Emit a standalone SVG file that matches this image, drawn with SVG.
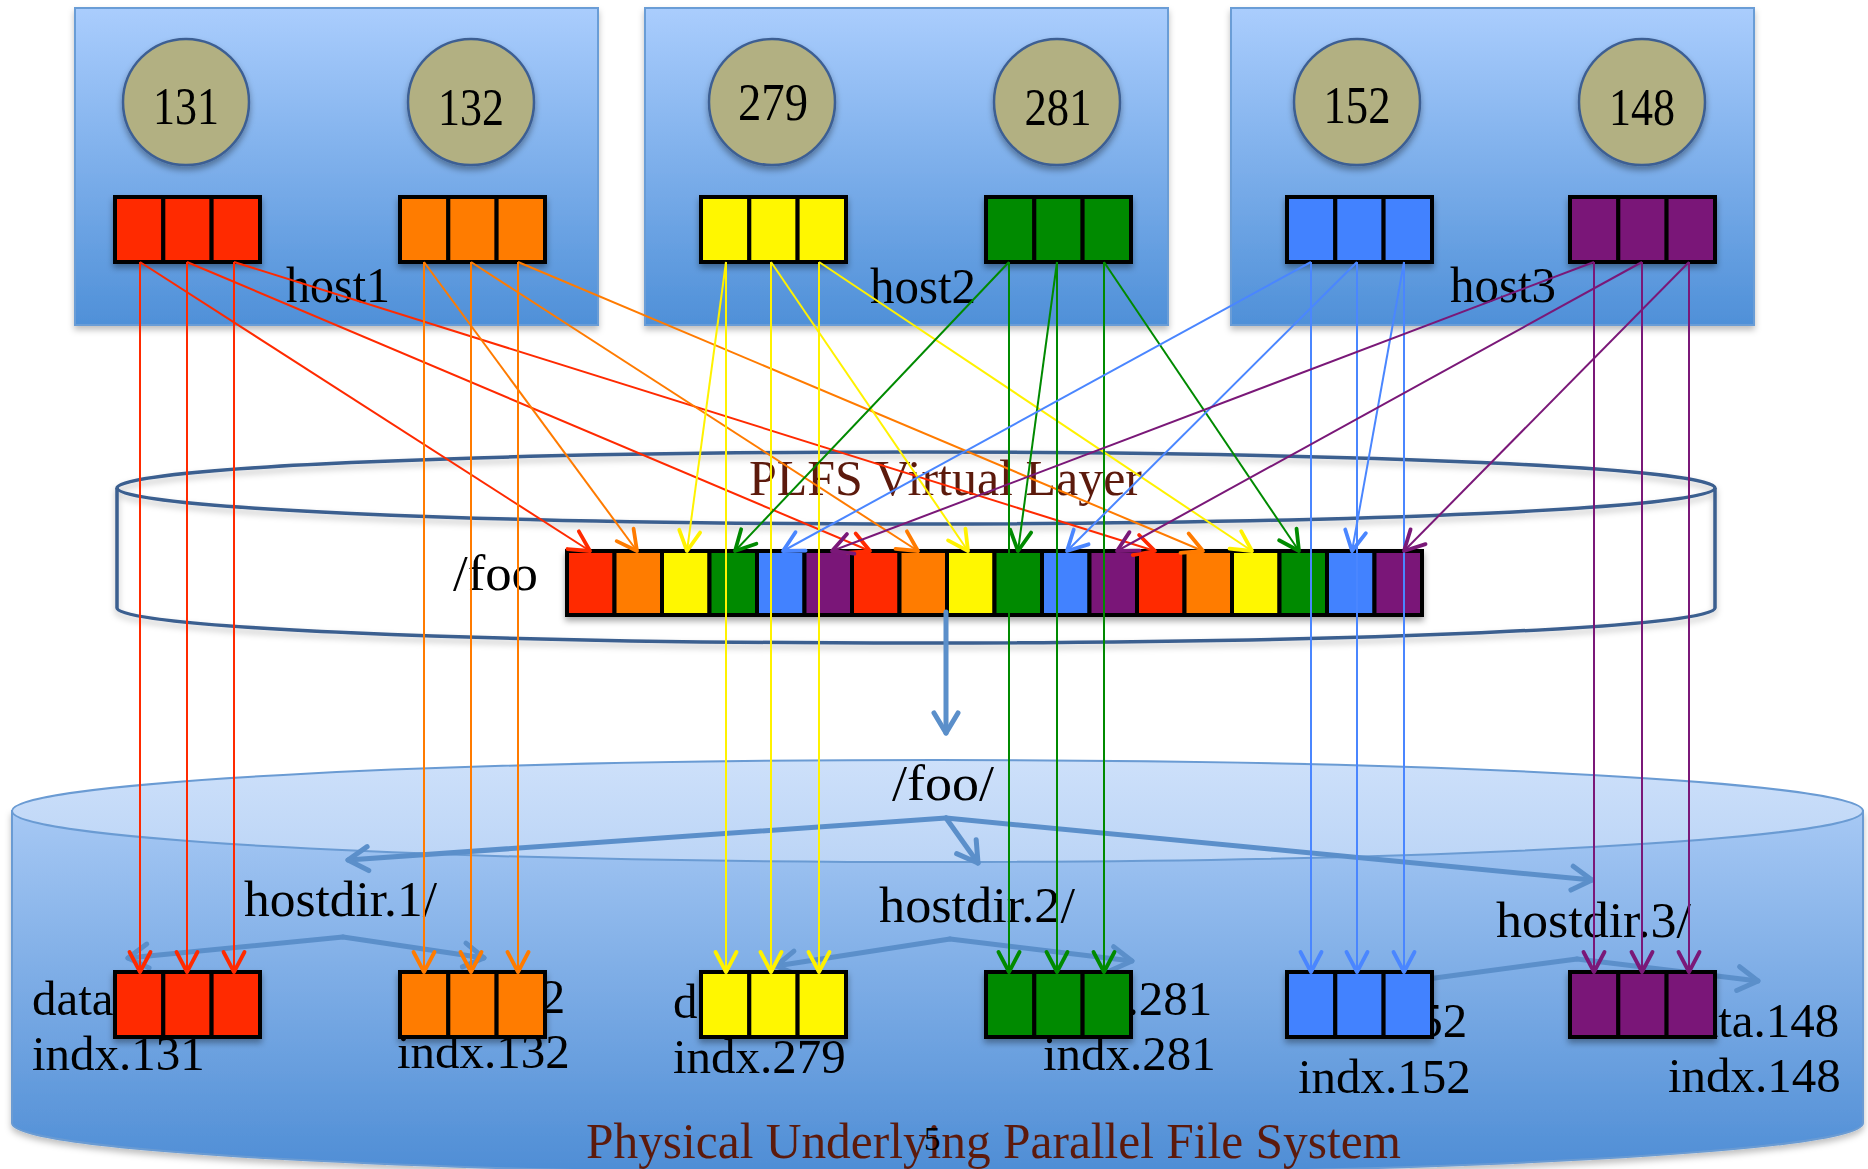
<svg xmlns="http://www.w3.org/2000/svg" width="1868" height="1169" viewBox="0 0 1868 1169">
<defs>
  <linearGradient id="hostGrad" x1="0" y1="0" x2="0" y2="1">
    <stop offset="0" stop-color="#aacdfd"/>
    <stop offset="1" stop-color="#4f90d8"/>
  </linearGradient>
  <linearGradient id="bodyGrad" x1="0" y1="0" x2="0" y2="1">
    <stop offset="0" stop-color="#a6c8f4"/>
    <stop offset="1" stop-color="#4e8dd5"/>
  </linearGradient>
  <linearGradient id="lidGrad" x1="0" y1="0" x2="0" y2="1">
    <stop offset="0" stop-color="#cde0fa"/>
    <stop offset="1" stop-color="#bcd5f6"/>
  </linearGradient>
  <filter id="shadow" x="-10%" y="-10%" width="120%" height="130%">
    <feDropShadow dx="0" dy="4" stdDeviation="3" flood-color="#000" flood-opacity="0.35"/>
  </filter>
  <filter id="softShadow" x="-5%" y="-10%" width="110%" height="130%">
    <feDropShadow dx="0" dy="4" stdDeviation="3" flood-color="#000" flood-opacity="0.25"/>
  </filter>
  <marker id="mR" markerUnits="userSpaceOnUse" viewBox="-24 -14 28 28" markerWidth="28" markerHeight="28" refX="0" refY="0" orient="auto"><path d="M-20,-10.5 L0,0 L-20,10.5" fill="none" stroke="#ff2a00" stroke-width="3.8" stroke-linecap="round" stroke-linejoin="round"/></marker>
  <marker id="mO" markerUnits="userSpaceOnUse" viewBox="-24 -14 28 28" markerWidth="28" markerHeight="28" refX="0" refY="0" orient="auto"><path d="M-20,-10.5 L0,0 L-20,10.5" fill="none" stroke="#ff7b00" stroke-width="3.8" stroke-linecap="round" stroke-linejoin="round"/></marker>
  <marker id="mY" markerUnits="userSpaceOnUse" viewBox="-24 -14 28 28" markerWidth="28" markerHeight="28" refX="0" refY="0" orient="auto"><path d="M-20,-10.5 L0,0 L-20,10.5" fill="none" stroke="#fff200" stroke-width="3.8" stroke-linecap="round" stroke-linejoin="round"/></marker>
  <marker id="mG" markerUnits="userSpaceOnUse" viewBox="-24 -14 28 28" markerWidth="28" markerHeight="28" refX="0" refY="0" orient="auto"><path d="M-20,-10.5 L0,0 L-20,10.5" fill="none" stroke="#008a00" stroke-width="3.8" stroke-linecap="round" stroke-linejoin="round"/></marker>
  <marker id="mB" markerUnits="userSpaceOnUse" viewBox="-24 -14 28 28" markerWidth="28" markerHeight="28" refX="0" refY="0" orient="auto"><path d="M-20,-10.5 L0,0 L-20,10.5" fill="none" stroke="#4a86ff" stroke-width="3.8" stroke-linecap="round" stroke-linejoin="round"/></marker>
  <marker id="mP" markerUnits="userSpaceOnUse" viewBox="-24 -14 28 28" markerWidth="28" markerHeight="28" refX="0" refY="0" orient="auto"><path d="M-20,-10.5 L0,0 L-20,10.5" fill="none" stroke="#7a1878" stroke-width="3.8" stroke-linecap="round" stroke-linejoin="round"/></marker>
  <marker id="mS" markerUnits="userSpaceOnUse" viewBox="-26 -16 30 32" markerWidth="30" markerHeight="32" refX="0" refY="0" orient="auto"><path d="M-20,-12 L0,0 L-20,12" fill="none" stroke="#5b8fca" stroke-width="5" stroke-linecap="round" stroke-linejoin="round"/></marker>
</defs>
<style>
  .host { fill: url(#hostGrad); stroke: #6b9dd6; stroke-width: 2; filter: url(#softShadow); }
  .proc { fill: #b2b082; stroke: #3d5f93; stroke-width: 2.5; filter: url(#shadow); }
  .t { font-family: "Liberation Serif", "Times New Roman", serif; fill: #000; }
  .brown { fill: #5c1a0c; }
  .cell { stroke: #000; stroke-width: 4; }
  .blk { filter: url(#shadow); }
  .R { fill: #ff2a00; } .O { fill: #ff7b00; } .Y { fill: #fff700; } .G { fill: #008a00; } .B { fill: #4282ff; } .P { fill: #7a1878; }
  .lr { stroke: #ff2a00; marker-end: url(#mR); }
  .lo { stroke: #ff7b00; marker-end: url(#mO); }
  .ly { stroke: #fff200; marker-end: url(#mY); }
  .lg { stroke: #008a00; marker-end: url(#mG); }
  .lb { stroke: #4a86ff; marker-end: url(#mB); }
  .lp { stroke: #7a1878; marker-end: url(#mP); }
  #connectors line { stroke-width: 2; fill: none; }
  .steel { stroke: #5b8fca; stroke-width: 5; fill: none; stroke-linecap: round; stroke-linejoin: round; }
  .steelA { marker-end: url(#mS); }
</style>
<rect x="0" y="0" width="1868" height="1169" fill="#fff"/>

<!-- Physical file system cylinder -->
<g id="pfs">
  <path d="M12,811 L12,1123 A925.5,51 0 0 0 1863,1123 L1863,811 Z" fill="url(#bodyGrad)" stroke="#6a9bd3" stroke-width="2" filter="url(#softShadow)"/>
  <ellipse cx="937.5" cy="811" rx="925.5" ry="51" fill="url(#lidGrad)" stroke="#6a9bd3" stroke-width="2"/>
</g>

<!-- Hosts -->
<g id="host1">
  <rect class="host" x="75" y="8" width="523" height="317"/>
  <text class="t" x="286" y="302" font-size="50" textLength="104" lengthAdjust="spacingAndGlyphs">host1</text>
</g>
<g id="host2">
  <rect class="host" x="645" y="8" width="523" height="317"/>
  <text class="t" x="870" y="303" font-size="50" textLength="106" lengthAdjust="spacingAndGlyphs">host2</text>
</g>
<g id="host3">
  <rect class="host" x="1231" y="8" width="523" height="317"/>
  <text class="t" x="1450" y="302" font-size="50" textLength="106" lengthAdjust="spacingAndGlyphs">host3</text>
</g>

<g id="proc131"><circle class="proc" cx="186" cy="102" r="63"/><text class="t" x="186" y="124" font-size="53" text-anchor="middle" textLength="66" lengthAdjust="spacingAndGlyphs">131</text></g>
<g id="proc132"><circle class="proc" cx="471" cy="102" r="63"/><text class="t" x="471" y="125" font-size="53" text-anchor="middle" textLength="66" lengthAdjust="spacingAndGlyphs">132</text></g>
<g id="proc279"><circle class="proc" cx="772" cy="102" r="63"/><text class="t" x="773" y="120" font-size="53" text-anchor="middle" textLength="70" lengthAdjust="spacingAndGlyphs">279</text></g>
<g id="proc281"><circle class="proc" cx="1057" cy="102" r="63"/><text class="t" x="1058" y="125" font-size="53" text-anchor="middle" textLength="67" lengthAdjust="spacingAndGlyphs">281</text></g>
<g id="proc152"><circle class="proc" cx="1357" cy="102" r="63"/><text class="t" x="1357" y="123" font-size="53" text-anchor="middle" textLength="67" lengthAdjust="spacingAndGlyphs">152</text></g>
<g id="proc148"><circle class="proc" cx="1642" cy="102" r="63"/><text class="t" x="1642" y="125" font-size="53" text-anchor="middle" textLength="66" lengthAdjust="spacingAndGlyphs">148</text></g>

<!-- top buffers -->
<g id="buf131" class="blk"><rect class="cell R" x="115" y="197" width="48.3" height="65"/><rect class="cell R" x="163.3" y="197" width="48.3" height="65"/><rect class="cell R" x="211.6" y="197" width="48.4" height="65"/></g>
<g id="buf132" class="blk"><rect class="cell O" x="400" y="197" width="48.3" height="65"/><rect class="cell O" x="448.3" y="197" width="48.3" height="65"/><rect class="cell O" x="496.6" y="197" width="48.4" height="65"/></g>
<g id="buf279" class="blk"><rect class="cell Y" x="701" y="197" width="48.3" height="65"/><rect class="cell Y" x="749.3" y="197" width="48.3" height="65"/><rect class="cell Y" x="797.6" y="197" width="48.4" height="65"/></g>
<g id="buf281" class="blk"><rect class="cell G" x="986" y="197" width="48.3" height="65"/><rect class="cell G" x="1034.3" y="197" width="48.3" height="65"/><rect class="cell G" x="1082.6" y="197" width="48.4" height="65"/></g>
<g id="buf152" class="blk"><rect class="cell B" x="1287" y="197" width="48.3" height="65"/><rect class="cell B" x="1335.3" y="197" width="48.3" height="65"/><rect class="cell B" x="1383.6" y="197" width="48.4" height="65"/></g>
<g id="buf148" class="blk"><rect class="cell P" x="1570" y="197" width="48.3" height="65"/><rect class="cell P" x="1618.3" y="197" width="48.3" height="65"/><rect class="cell P" x="1666.6" y="197" width="48.4" height="65"/></g>

<!-- PLFS virtual layer cylinder (outline) -->
<g id="plfs" filter="url(#softShadow)">
  <ellipse cx="916" cy="488" rx="799" ry="36" fill="none" stroke="#3b5e8f" stroke-width="3.5"/>
  <path d="M117,488 L117,608 A799,35 0 0 0 1715,608 L1715,488" fill="none" stroke="#3b5e8f" stroke-width="3.5"/>
</g>
<text class="t brown" x="749" y="495" font-size="50" textLength="393" lengthAdjust="spacingAndGlyphs">PLFS Virtual Layer</text>

<!-- /foo strip -->
<g id="foo">
  <text class="t" x="453" y="590" font-size="50" textLength="85" lengthAdjust="spacingAndGlyphs">/foo</text>
  <g class="blk">
    <rect class="cell R" x="567" y="551" width="47.5" height="64"/>
    <rect class="cell O" x="614.5" y="551" width="47.5" height="64"/>
    <rect class="cell Y" x="662" y="551" width="47.5" height="64"/>
    <rect class="cell G" x="709.5" y="551" width="47.5" height="64"/>
    <rect class="cell B" x="757" y="551" width="47.5" height="64"/>
    <rect class="cell P" x="804.5" y="551" width="47.5" height="64"/>
    <rect class="cell R" x="852" y="551" width="47.5" height="64"/>
    <rect class="cell O" x="899.5" y="551" width="47.5" height="64"/>
    <rect class="cell Y" x="947" y="551" width="47.5" height="64"/>
    <rect class="cell G" x="994.5" y="551" width="47.5" height="64"/>
    <rect class="cell B" x="1042" y="551" width="47.5" height="64"/>
    <rect class="cell P" x="1089.5" y="551" width="47.5" height="64"/>
    <rect class="cell R" x="1137" y="551" width="47.5" height="64"/>
    <rect class="cell O" x="1184.5" y="551" width="47.5" height="64"/>
    <rect class="cell Y" x="1232" y="551" width="47.5" height="64"/>
    <rect class="cell G" x="1279.5" y="551" width="47.5" height="64"/>
    <rect class="cell B" x="1327" y="551" width="47.5" height="64"/>
    <rect class="cell P" x="1374.5" y="551" width="47.5" height="64"/>
  </g>
</g>

<!-- physical layer labels -->
<text class="t" x="892" y="800" font-size="50" textLength="102" lengthAdjust="spacingAndGlyphs">/foo/</text>
<g id="hostdir1"><text class="t" x="244" y="916" font-size="50" textLength="193" lengthAdjust="spacingAndGlyphs">hostdir.1/</text></g>
<g id="hostdir2"><text class="t" x="879" y="922" font-size="50" textLength="196" lengthAdjust="spacingAndGlyphs">hostdir.2/</text></g>
<g id="hostdir3"><text class="t" x="1496" y="937" font-size="50" textLength="195" lengthAdjust="spacingAndGlyphs">hostdir.3/</text></g>

<!-- steel blue structure arrows -->
<g id="structure">
  <line class="steel steelA" x1="946" y1="612" x2="946" y2="733"/>
  <polyline class="steel steelA" points="946,818 348,860"/>
  <polyline class="steel steelA" points="946,818 978,863"/>
  <polyline class="steel steelA" points="946,818 1592,880"/>
  <polyline class="steel steelA" points="343,937 128,958"/>
  <polyline class="steel steelA" points="343,937 484,958"/>
  <polyline class="steel steelA" points="950,939 776,966"/>
  <polyline class="steel steelA" points="950,939 1132,961"/>
  <polyline class="steel" points="1577,959 1420,980"/>
  <polyline class="steel steelA" points="1577,959 1758,981"/>
</g>

<!-- data/index files -->
<g id="files131">
  <text class="t" x="32" y="1015" font-size="49">data.131</text>
  <text class="t" x="32" y="1070" font-size="49">indx.131</text>
  <g class="blk"><rect class="cell R" x="115" y="972" width="48.3" height="65"/><rect class="cell R" x="163.3" y="972" width="48.3" height="65"/><rect class="cell R" x="211.6" y="972" width="48.4" height="65"/></g>
</g>
<g id="files132">
  <text class="t" x="398" y="1013" font-size="49">data.132</text>
  <text class="t" x="397" y="1068" font-size="49">indx.132</text>
  <g class="blk"><rect class="cell O" x="400" y="972" width="48.3" height="65"/><rect class="cell O" x="448.3" y="972" width="48.3" height="65"/><rect class="cell O" x="496.6" y="972" width="48.4" height="65"/></g>
</g>
<g id="files279">
  <text class="t" x="673" y="1018" font-size="49">data.279</text>
  <text class="t" x="673" y="1073" font-size="49">indx.279</text>
  <g class="blk"><rect class="cell Y" x="701" y="972" width="48.3" height="65"/><rect class="cell Y" x="749.3" y="972" width="48.3" height="65"/><rect class="cell Y" x="797.6" y="972" width="48.4" height="65"/></g>
</g>
<g id="files281">
  <text class="t" x="1045" y="1015" font-size="49">data.281</text>
  <text class="t" x="1043" y="1070" font-size="49">indx.281</text>
  <g class="blk"><rect class="cell G" x="986" y="972" width="48.3" height="65"/><rect class="cell G" x="1034.3" y="972" width="48.3" height="65"/><rect class="cell G" x="1082.6" y="972" width="48.4" height="65"/></g>
</g>
<g id="files152">
  <text class="t" x="1300" y="1037" font-size="49">data.152</text>
  <text class="t" x="1298" y="1093" font-size="49">indx.152</text>
  <g class="blk"><rect class="cell B" x="1287" y="972" width="48.3" height="65"/><rect class="cell B" x="1335.3" y="972" width="48.3" height="65"/><rect class="cell B" x="1383.6" y="972" width="48.4" height="65"/></g>
</g>
<g id="files148">
  <text class="t" x="1672" y="1037" font-size="49">data.148</text>
  <text class="t" x="1668" y="1092" font-size="49">indx.148</text>
  <g class="blk"><rect class="cell P" x="1570" y="972" width="48.3" height="65"/><rect class="cell P" x="1618.3" y="972" width="48.3" height="65"/><rect class="cell P" x="1666.6" y="972" width="48.4" height="65"/></g>
</g>

<!-- connectors -->
<g id="connectors">
  <line class="lr" x1="140" y1="262" x2="590" y2="551"/>
  <line class="lr" x1="187" y1="262" x2="870" y2="551"/>
  <line class="lr" x1="234" y1="262" x2="1155" y2="551"/>
  <line class="lr" x1="140" y1="262" x2="140" y2="972"/>
  <line class="lr" x1="187" y1="262" x2="187" y2="972"/>
  <line class="lr" x1="234" y1="262" x2="234" y2="972"/>

  <line class="lo" x1="424" y1="262" x2="637" y2="551"/>
  <line class="lo" x1="471" y1="262" x2="918" y2="551"/>
  <line class="lo" x1="518" y1="262" x2="1203" y2="551"/>
  <line class="lo" x1="424" y1="262" x2="424" y2="972"/>
  <line class="lo" x1="471" y1="262" x2="471" y2="972"/>
  <line class="lo" x1="518" y1="262" x2="518" y2="972"/>

  <line class="ly" x1="726" y1="262" x2="687" y2="551"/>
  <line class="ly" x1="771" y1="262" x2="968" y2="551"/>
  <line class="ly" x1="819" y1="262" x2="1252" y2="551"/>
  <line class="ly" x1="726" y1="262" x2="726" y2="972"/>
  <line class="ly" x1="771" y1="262" x2="771" y2="972"/>
  <line class="ly" x1="819" y1="262" x2="819" y2="972"/>

  <line class="lg" x1="1009" y1="262" x2="735" y2="551"/>
  <line class="lg" x1="1057" y1="262" x2="1018" y2="551"/>
  <line class="lg" x1="1104" y1="262" x2="1299" y2="551"/>
  <line class="lg" x1="1009" y1="262" x2="1009" y2="972"/>
  <line class="lg" x1="1057" y1="262" x2="1057" y2="972"/>
  <line class="lg" x1="1104" y1="262" x2="1104" y2="972"/>

  <line class="lb" x1="1311" y1="262" x2="783" y2="551"/>
  <line class="lb" x1="1357" y1="262" x2="1067" y2="551"/>
  <line class="lb" x1="1404" y1="262" x2="1352" y2="551"/>
  <line class="lb" x1="1311" y1="262" x2="1311" y2="972"/>
  <line class="lb" x1="1357" y1="262" x2="1357" y2="972"/>
  <line class="lb" x1="1404" y1="262" x2="1404" y2="972"/>

  <line class="lp" x1="1594" y1="262" x2="832" y2="551"/>
  <line class="lp" x1="1642" y1="262" x2="1117" y2="551"/>
  <line class="lp" x1="1689" y1="262" x2="1404" y2="551"/>
  <line class="lp" x1="1594" y1="262" x2="1594" y2="972"/>
  <line class="lp" x1="1642" y1="262" x2="1642" y2="972"/>
  <line class="lp" x1="1689" y1="262" x2="1689" y2="972"/>
</g>

<text class="t brown" x="586" y="1158" font-size="50" textLength="815" lengthAdjust="spacingAndGlyphs">Physical Underlying Parallel File System</text>
<text class="t" x="924" y="1150" font-size="33">5</text>
</svg>
